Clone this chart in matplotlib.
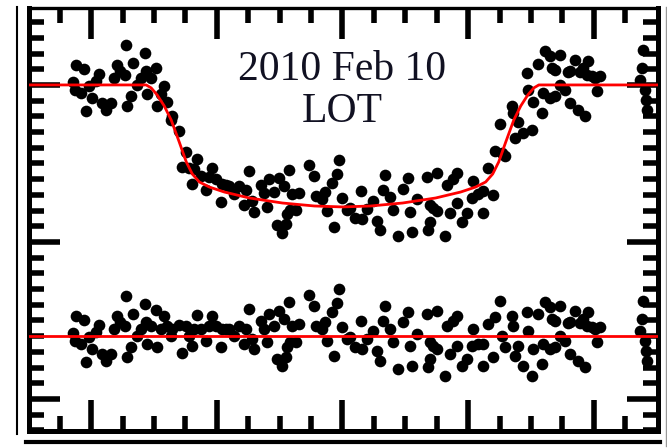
import numpy as np
import matplotlib
matplotlib.use('Agg')
import matplotlib.pyplot as plt
from matplotlib.lines import Line2D

# time from mid-transit (hours) and residual flux (parts per thousand)
timeHr = [-2.143, -2.127, -2.120, -2.080, -2.056, -2.040, -2.016, -1.992, -1.960, -1.936,
          -1.912, -1.880, -1.841, -1.817, -1.793, -1.769, -1.729, -1.721, -1.713, -1.681,
          -1.665, -1.633, -1.602, -1.570, -1.562, -1.554, -1.522, -1.482, -1.474, -1.442,
          -1.418, -1.394, -1.363, -1.355, -1.299, -1.275, -1.243, -1.219, -1.195, -1.179,
          -1.155, -1.124, -1.084, -1.060, -1.036, -1.004, -0.964, -0.956, -0.924, -0.900,
          -0.861, -0.821, -0.781, -0.765, -0.741, -0.717, -0.701, -0.645, -0.622, -0.598,
          -0.582, -0.542, -0.518, -0.502, -0.478, -0.462, -0.446, -0.440, -0.422, -0.418,
          -0.398, -0.367, -0.343, -0.263, -0.223, -0.207, -0.167, -0.143, -0.120, -0.080,
          -0.064, -0.040, -0.024, 0.000, 0.032, 0.056, 0.096, 0.151, 0.159, 0.191,
          0.239, 0.271, 0.295, 0.319, 0.335, 0.375, 0.398, 0.438, 0.478, 0.518,
          0.534, 0.550, 0.590, 0.669, 0.677, 0.693, 0.697, 0.717, 0.749, 0.753,
          0.813, 0.829, 0.853, 0.876, 0.908, 0.912, 0.948, 0.988, 1.028, 1.036,
          1.076, 1.116, 1.120, 1.155, 1.195, 1.211, 1.251, 1.267, 1.291, 1.347,
          1.355, 1.371, 1.394, 1.434, 1.466, 1.474, 1.506, 1.514, 1.554, 1.586,
          1.594, 1.610, 1.649, 1.653, 1.665, 1.689, 1.693, 1.729, 1.733, 1.769,
          1.793, 1.809, 1.813, 1.849, 1.873, 1.888, 1.912, 1.928, 1.944, 1.952,
          1.984, 2.008, 2.024, 2.048, 2.367, 2.382, 2.390, 2.406, 2.414, 2.422]
residPpt = [0.19, -0.32, 1.27, -0.51, 1.02, -1.66, -0.06, -0.83, 0.25, 0.70,
            -1.15, -1.59, -1.15, 0.45, 1.27, 0.89, 0.64, 2.55, -1.34, -0.70,
            1.40, 0.00, 0.45, 2.04, 0.89, -0.51, 0.64, 1.66, -0.70, 0.45,
            1.27, 0.64, 0.00, 0.45, 0.70, -1.08, 0.64, 0.00, -0.64, 0.45,
            1.34, 0.45, -0.32, 0.64, 1.27, 0.64, -0.70, 0.45, 0.45, 0.45,
            0.00, 0.64, -0.51, 0.45, 1.72, -0.19, -0.83, 0.96, 0.45, -0.38,
            1.40, 0.64, -1.46, 1.59, -1.91, 1.08, -1.34, -0.70, 2.17, -0.38,
            0.64, -0.38, 0.76, 2.61, 1.91, 0.64, 0.45, 0.89, -0.32, 1.53,
            -1.27, 2.10, 2.99, 0.57, -0.19, -0.06, -0.70, 0.96, -0.83, -0.19,
            0.32, -0.96, -1.59, 0.96, 1.91, 0.45, -0.38, -2.10, 0.89, 1.53,
            -0.64, -1.91, 0.13, 1.40, -1.97, -0.38, -1.46, -0.64, 1.59, -0.83,
            -2.55, 0.64, -1.15, 0.96, 1.27, -0.64, -1.91, -1.46, -0.64, 0.45,
            -0.51, -0.51, -1.91, 0.76, -1.34, 1.21, 2.23, 0.00, -0.70, 1.27,
            0.64, -1.27, -0.64, -1.91, 1.53, 0.32, -2.55, -0.83, 1.40, -1.78,
            -0.51, 2.17, 1.85, -0.83, 1.08, -0.70, 0.96, 1.91, 0.00, -0.32,
            0.83, -1.15, 0.89, 1.59, -1.59, 0.83, 1.08, -1.97, 0.64, 1.53,
            0.57, 0.45, -0.38, 0.57, 0.32, 1.08, 2.23, -0.32, -0.96, -1.59]

# transit model (red curve), depth in parts per thousand
modelTimeHr = [-2.6, -1.562, -1.522, -1.474, -1.418, -1.363, -1.299, -1.243, -1.195, -1.139,
               -1.060, -0.940, -0.741, -0.478, -0.223, 0.0, 0.223, 0.478, 0.741, 0.940,
               1.060, 1.139, 1.195, 1.243, 1.299, 1.363, 1.418, 1.474, 1.522, 1.562, 2.6]
modelDepthPpt = [0.0, 0.0, 0.19, 0.64, 1.34, 2.23, 3.63, 4.90, 5.67, 6.18,
                 6.50, 6.82, 7.20, 7.52, 7.71, 7.77, 7.71, 7.52, 7.20, 6.82,
                 6.50, 6.18, 5.67, 4.90, 3.63, 2.23, 1.34, 0.64, 0.19, 0.0, 0.0]

residOffset = 0.984
labelLines = ['2010 Feb 10', 'LOT']

t = np.array(timeHr)
modelT = np.array(modelTimeHr)
modelF = 1.0 - np.array(modelDepthPpt) / 1000.0
resid = np.array(residPpt) / 1000.0
flux = np.interp(t, modelT, modelF) + resid

fig = plt.figure(figsize=(6.67, 4.48), dpi=100)
ax = fig.add_axes([29 / 667, 1 - 431 / 448, 628.5 / 667, 423 / 448])

ax.plot(t, flux, 'o', color='black', markersize=8.4, markeredgewidth=0, zorder=2)
ax.plot(t, resid + residOffset, 'o', color='black', markersize=8.4, markeredgewidth=0, zorder=2)
ax.plot(modelT, modelF, color='red', linewidth=2.0, zorder=3)
ax.axhline(residOffset, color='red', linewidth=2.0, zorder=3)

ax.set_xlim(-2.494, 2.506)
ax.set_ylim(0.97796, 1.0049)
ax.set_xticks([-2, -1, 0, 1, 2])
ax.set_xticks(np.arange(-2.25, 2.5, 0.25), minor=True)
ax.set_yticks([0.98, 0.99, 1.00])
ax.set_yticks(np.arange(0.978, 1.0049, 0.001), minor=True)
ax.tick_params(which='both', direction='in', top=True, right=True,
               labelbottom=False, labelleft=False, width=4, color='black')
ax.tick_params(which='major', length=22)
ax.tick_params(which='minor', length=10.5)
for side in ['left', 'right', 'bottom']:
    ax.spines[side].set_linewidth(3.6)
ax.spines['top'].set_linewidth(2.4)

ax.text(0.0, 1.00032, labelLines[0], ha='center', va='baseline', fontsize=30,
        family='Liberation Serif', color='#111122')
ax.text(0.0, 0.99764, labelLines[1], ha='center', va='baseline', fontsize=30,
        family='Liberation Serif', color='#111122')

# bits of the neighbouring panels
fig.add_artist(Line2D([17 / 667, 17 / 667], [1 - 7 / 448, 1 - 434 / 448], color='black', linewidth=1.5))
fig.add_artist(Line2D([26 / 667, 660 / 667], [1 - 442 / 448, 1 - 442 / 448], color='black', linewidth=3))
fig.add_artist(Line2D([666 / 667, 666 / 667], [1 - 7 / 448, 1.0 - 446 / 448], color='#999999', linewidth=1))

fig.savefig('out.png', dpi=100)
